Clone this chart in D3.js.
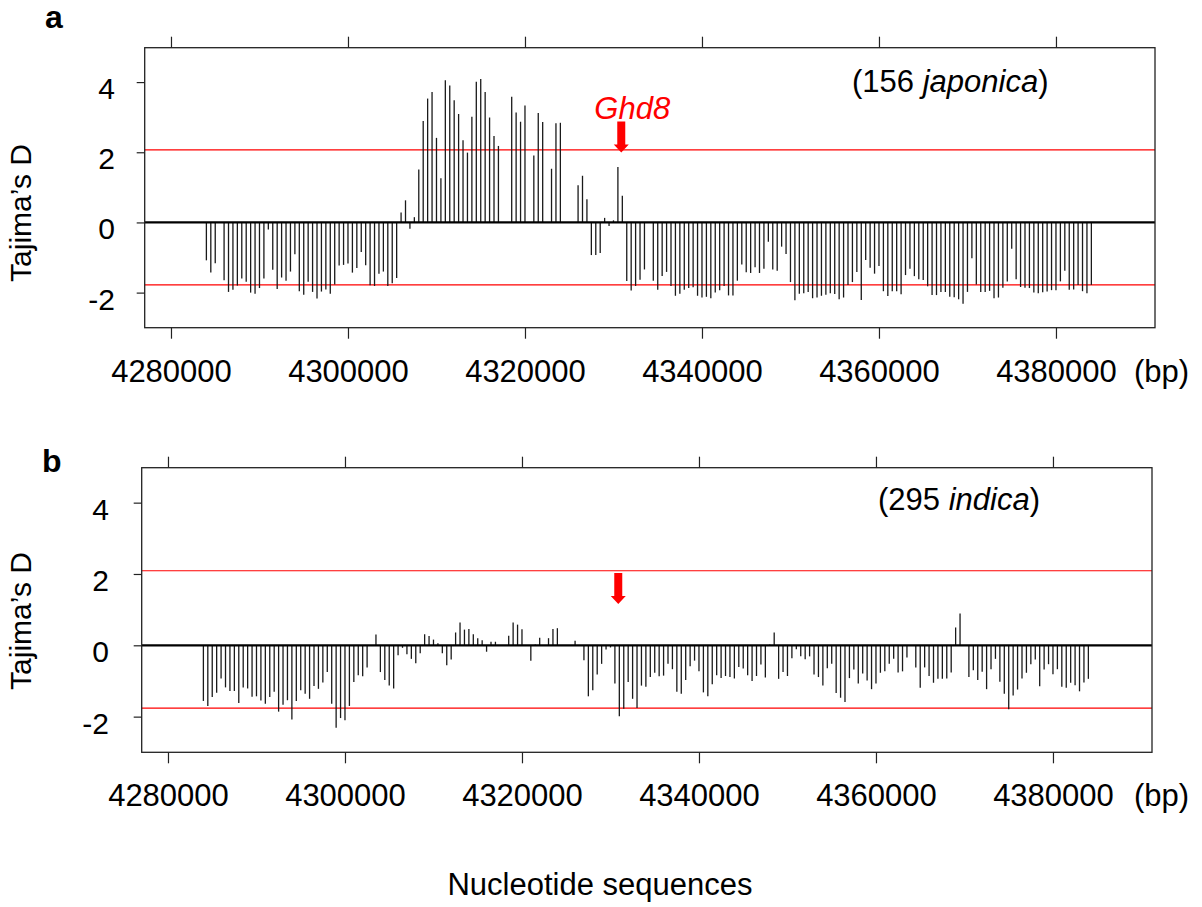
<!DOCTYPE html>
<html>
<head>
<meta charset="utf-8">
<script src="https://cdn.jsdelivr.net/npm/d3@7"></script>
<style>
body { margin: 0; background: #fff; }
svg { display: block; font-family: "Liberation Sans", Arial, sans-serif; }
</style>
</head>
<body>
<div id="chart"></div>
<script>
// sliding windows along the chromosome (bp), one Tajima's D per window
const windowStart = 4284000;
const windowEnd = 4384000;
const windowStep = 500;
const positions = d3.range(windowStart, windowEnd + 1, windowStep);

// panel a: 156 japonica (null = no value for that window)
const japonicaD = [
    -1.08, -1.43, -1.16, null, -1.65, -1.98, -1.92, -1.80, -1.60, -1.69,
    -2.00, -2.03, -1.87, -1.60, -0.20, -1.35, -1.90, -1.57, -1.66, -1.40,
    -0.91, -1.96, -2.06, -1.69, -1.98, -2.17, -1.97, -1.91, -2.03, -1.77,
    -1.23, -1.21, -1.17, -1.43, -1.30, -0.84, -1.22, -1.79, -1.81, -1.46,
    -1.40, -1.81, -1.73, -1.58, 0.28, 0.63, -0.18, 0.15, 1.51, 2.89,
    3.53, 3.72, 2.41, 1.26, 4.05, 3.90, 3.48, 3.09, 2.34, 1.99,
    3.01, 4.01, 4.09, 3.72, 2.99, 2.46, 2.18, null, null, 3.58,
    3.13, 2.87, 3.33, null, 1.91, 3.12, 2.86, null, 1.53, 2.83,
    2.84, null, null, null, 1.06, 1.33, 0.66, -0.93, -0.93, -0.87,
    0.13, -0.10, 0.06, 1.58, 0.76, -1.67, -1.94, -1.81, -1.63, -1.34,
    null, -1.66, -1.92, -1.53, -1.41, -1.81, -2.09, -2.03, -1.92, -1.87,
    -1.85, -2.09, -2.14, -2.12, -2.16, -2.00, -1.93, -1.81, -2.08, -2.08,
    -1.66, -1.20, -1.42, -1.44, -1.28, -1.44, -1.32, -0.55, -1.34, -1.38,
    -0.69, -0.90, -1.70, -2.22, -2.03, -2.02, -1.98, -2.16, -2.14, -2.09,
    -2.06, -2.02, -2.04, -2.19, -2.14, -1.78, -1.70, -1.41, -2.21, -1.07,
    -1.29, -1.46, -1.24, -1.96, -2.10, -1.96, -1.96, -2.05, -1.50, -1.32,
    -1.53, -1.62, -1.64, -1.82, -2.07, -2.07, -1.98, -1.98, -2.12, -2.13,
    -2.19, -2.32, -1.98, -1.02, -1.77, -1.98, -1.98, -1.95, -2.16, -2.14,
    -1.86, -1.68, -0.75, -1.62, -1.84, -1.86, -1.87, -2.00, -2.02, -1.99,
    -1.97, -1.93, -1.93, -1.68, -1.38, -1.92, -1.91, -1.78, -1.96, -2.02,
    -1.78
];

// panel b: 295 indica
const indicaD = [
    -1.56, -1.70, -1.45, -1.33, -0.93, -1.18, -1.28, -1.28, -1.62, -1.18,
    -1.21, -1.44, -1.43, -1.55, -1.64, -1.45, -1.30, -1.86, -1.67, -1.54,
    -2.08, -1.56, -1.26, -1.36, -1.50, -1.14, -1.22, -1.04, -0.75, -1.64,
    -2.31, -2.04, -2.10, -1.70, -1.03, -0.84, -0.87, -0.62, null, 0.30,
    -0.75, -0.97, -1.13, -1.21, -0.28, -0.07, -0.25, -0.38, -0.50, -0.22,
    0.31, 0.26, 0.16, 0.06, -0.22, -0.56, -0.40, 0.36, 0.64, 0.44,
    0.46, 0.31, 0.20, 0.14, -0.18, 0.10, 0.10, null, null, 0.27,
    0.64, 0.58, 0.45, null, -0.43, 0.02, 0.21, null, 0.20, 0.46,
    0.48, null, null, null, 0.13, -0.02, -0.42, -1.43, -1.26, -0.82,
    -0.52, -0.12, -0.06, -1.07, -1.99, -1.78, -1.03, -1.50, -1.76, -1.13,
    -1.16, -0.89, -0.77, -0.87, -0.85, -0.52, -0.67, -1.30, -1.36, -0.97,
    -0.59, -0.43, -0.73, -1.32, -1.43, -1.09, -0.84, -0.92, -0.86, -0.89,
    -0.93, -0.61, -0.65, -0.84, -1.00, -0.86, -0.54, -0.90, 0.02, 0.36,
    -0.94, -0.75, -0.86, -0.36, -0.11, -0.31, -0.39, -0.31, -0.82, -0.89,
    -1.13, -0.64, -0.52, -1.34, -1.47, -1.59, -0.92, -0.68, -1.07, -0.79,
    -0.99, -1.23, -1.07, -0.77, -0.73, -0.52, -0.38, -0.76, -0.73, -0.34,
    -0.02, -0.62, -1.19, -0.62, -0.86, -1.05, -0.94, -0.94, -0.93, -0.76,
    0.50, 0.89, null, -0.89, -0.70, -0.97, -0.74, -1.23, -0.67, -0.38,
    -1.02, -1.36, -1.79, -1.41, -1.24, -0.93, -0.77, -0.53, -0.40, -1.15,
    -0.68, -0.53, -0.81, -0.67, -1.16, -1.19, -1.05, -1.12, -1.29, -1.04,
    -0.94
];

const xTicks = [4280000, 4300000, 4320000, 4340000, 4360000, 4380000];
const yTicks = [-2, 0, 2, 4];
const xDomain = [4277030, 4391190];
const yDomain = [-3, 4.98];
const japonicaCutoffs = [2.07, -1.78];
const indicaCutoffs = [2.09, -1.76];
const ghd8Pos = 4330880;

const panels = [
    { tag: "a", values: japonicaD, cutoffs: japonicaCutoffs, count: "156", group: "japonica",
      left: 144.7, right: 1155, top: 47.7, bottom: 327.7, arrowTip: 1.99, showGene: true,
      groupX: 852, groupY: 92, tagX: 45, tagY: 28, labelPad: 21.7, ylabY: 213 },
    { tag: "b", values: indicaD, cutoffs: indicaCutoffs, count: "295", group: "indica",
      left: 141.7, right: 1152, top: 467.7, bottom: 752.3, arrowTip: 1.16, showGene: false,
      groupX: 878, groupY: 510, tagX: 42, tagY: 472, labelPad: 24.7, ylabY: 621 }
];

const svg = d3.select("#chart").append("svg")
    .attr("width", 1202)
    .attr("height", 907);

panels.forEach(p => {
    const xScale = d3.scaleLinear().domain(xDomain).range([p.left, p.right]);
    const yScale = d3.scaleLinear().domain(yDomain).range([p.bottom, p.top]);
    const g = svg.append("g");

    // red significance lines
    g.selectAll("line.cut")
        .data(p.cutoffs)
        .join("line")
        .attr("class", "cut")
        .attr("x1", p.left).attr("x2", p.right)
        .attr("y1", d => yScale(d)).attr("y2", d => yScale(d))
        .attr("stroke", "#ff0000")
        .attr("stroke-width", 1.2);

    // one vertical spike per window
    const pts = positions.map((pos, i) => ({ pos: pos, v: p.values[i] })).filter(d => d.v !== null);
    g.selectAll("line.spike")
        .data(pts)
        .join("line")
        .attr("class", "spike")
        .attr("x1", d => xScale(d.pos)).attr("x2", d => xScale(d.pos))
        .attr("y1", yScale(0)).attr("y2", d => yScale(d.v))
        .attr("stroke", "#1a1a1a")
        .attr("stroke-width", 1.3);

    // zero line
    g.append("line")
        .attr("x1", p.left).attr("x2", p.right)
        .attr("y1", yScale(0)).attr("y2", yScale(0))
        .attr("stroke", "#000")
        .attr("stroke-width", 2.3);

    // plot box
    g.append("rect")
        .attr("x", p.left).attr("y", p.top)
        .attr("width", p.right - p.left).attr("height", p.bottom - p.top)
        .attr("fill", "none")
        .attr("stroke", "#222")
        .attr("stroke-width", 1.3);

    // axes
    const yAxis = d3.axisLeft(yScale).tickValues(yTicks).tickSize(8).tickPadding(p.labelPad)
        .tickFormat(d => String(d));
    const yg = g.append("g").attr("transform", `translate(${p.left},0)`).call(yAxis);
    yg.select(".domain").remove();
    yg.selectAll("text").attr("dy", "0.35em").attr("y", 6)
        .attr("font-size", 30).attr("font-family", "Liberation Sans, Arial, sans-serif").attr("fill", "#000");

    const xAxis = d3.axisBottom(xScale).tickValues(xTicks).tickSize(11).tickFormat(d => String(d));
    const xg = g.append("g").attr("transform", `translate(0,${p.bottom})`).call(xAxis);
    xg.select(".domain").remove();
    xg.selectAll("text").attr("y", 54).attr("dy", 0)
        .attr("font-size", 31).attr("font-family", "Liberation Sans, Arial, sans-serif").attr("fill", "#000");

    const topAxis = d3.axisTop(xScale).tickValues(xTicks).tickSize(11).tickFormat("");
    const tg = g.append("g").attr("transform", `translate(0,${p.top})`).call(topAxis);
    tg.select(".domain").remove();
    g.selectAll(".tick line").attr("stroke", "#222").attr("stroke-width", 1.2);

    g.append("text")
        .attr("x", 1134).attr("y", p.bottom + 54)
        .attr("font-size", 31)
        .text("(bp)");

    // y label
    g.append("text")
        .attr("transform", `translate(31,${p.ylabY}) rotate(-90)`)
        .attr("text-anchor", "middle")
        .attr("font-size", 30)
        .text("Tajima\u2019s D");

    // panel tag
    g.append("text")
        .attr("x", p.tagX).attr("y", p.tagY)
        .attr("font-size", 32)
        .attr("font-weight", "bold")
        .text(p.tag);

    // sample group
    const grp = g.append("text")
        .attr("x", p.groupX).attr("y", p.groupY)
        .attr("font-size", 31);
    grp.append("tspan").text(`(${p.count} `);
    grp.append("tspan").attr("font-style", "italic").text(p.group);
    grp.append("tspan").text(")");

    // Ghd8 arrow
    const ax = xScale(ghd8Pos);
    const ay = yScale(p.arrowTip);
    g.append("path")
        .attr("d", `M${ax},${ay} L${ax - 7.5},${ay - 8} L${ax - 4},${ay - 8} L${ax - 4},${ay - 31} L${ax + 4},${ay - 31} L${ax + 4},${ay - 8} L${ax + 7.5},${ay - 8} Z`)
        .attr("fill", "#ff0000");

    if (p.showGene) {
        g.append("text")
            .attr("x", ax + 11).attr("y", ay - 34)
            .attr("text-anchor", "middle")
            .attr("font-size", 31)
            .attr("font-style", "italic")
            .attr("fill", "#ff0000")
            .text("Ghd8");
    }
});

svg.append("text")
    .attr("x", 600).attr("y", 895)
    .attr("text-anchor", "middle")
    .attr("font-size", 31)
    .text("Nucleotide sequences");
</script>
</body>
</html>
